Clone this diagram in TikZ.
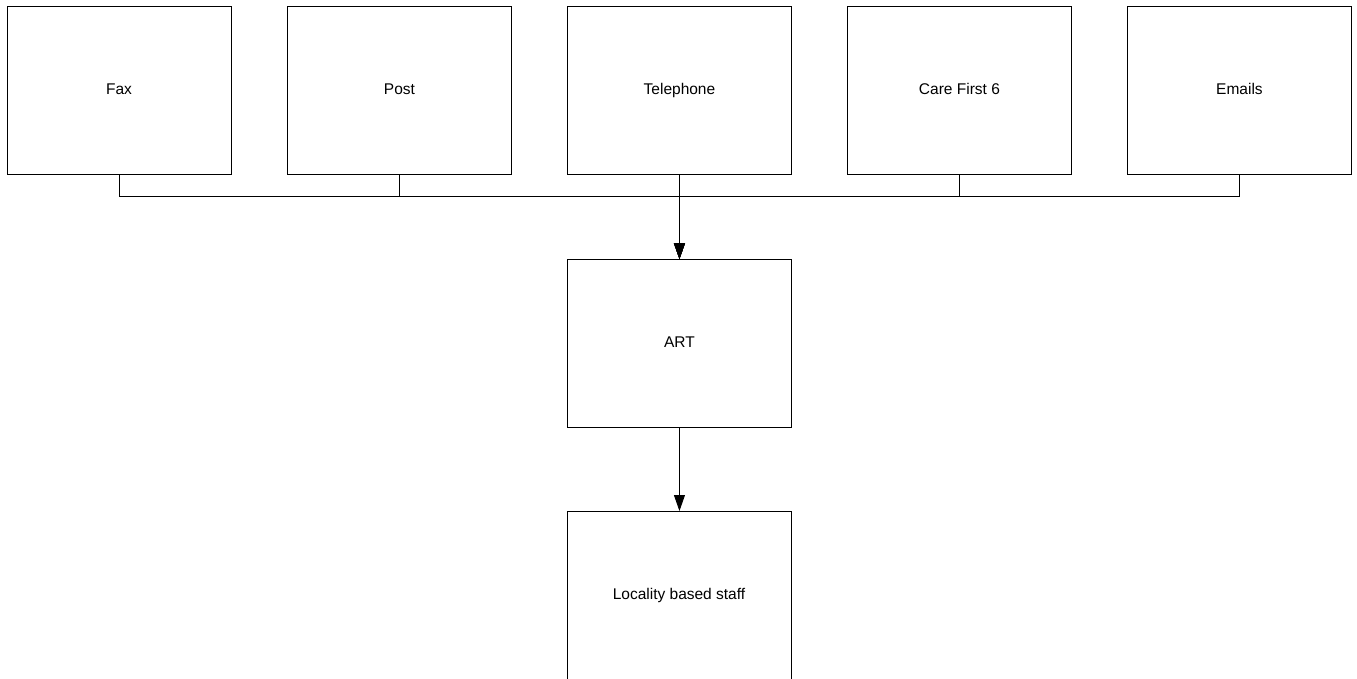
\documentclass[tikz,border=0pt]{standalone}
\usepackage{fontspec}
\setmainfont{Liberation Sans}
\usetikzlibrary{arrows.meta}
\begin{document}
\begin{tikzpicture}[x=1pt,y=-1pt,
  lbl/.style={font=\fontsize{15.5}{18}\selectfont},
  box/.style={draw, line width=0.9pt, minimum width=224pt, minimum height=168pt, inner sep=0pt, lbl, text height=11pt, text depth=3pt, anchor=north west},
  conn/.style={draw, line width=0.9pt, -{Triangle[length=16pt,width=11pt]}}]
\path[use as bounding box] (0,0) rectangle (1357,679);
\clip (0,0) rectangle (1357,679);
\fill[white] (0,0) rectangle (1357,679);
\node[box] (fax) at (6.5,6.5) {Fax};
\node[box] (post) at (287,6.5) {Post};
\node[box] (tel) at (567,6.5) {Telephone};
\node[box] (care) at (847,6.5) {Care First 6};
\node[box] (email) at (1127,6.5) {Emails};
\node[box] (art) at (567,259) {ART};
\node[box, minimum height=180pt] (loc) at (567,511) {};
\node[lbl, text height=11pt, text depth=3pt] (loclabel) at (679,595) {Locality based staff};
\foreach \s in {fax,post,tel,care,email}{
  \draw[conn] (\s.south) -- ++(0,21) -| (art.north);
}
\draw[conn] (art.south) -- (loc.north);
\end{tikzpicture}
\end{document}
